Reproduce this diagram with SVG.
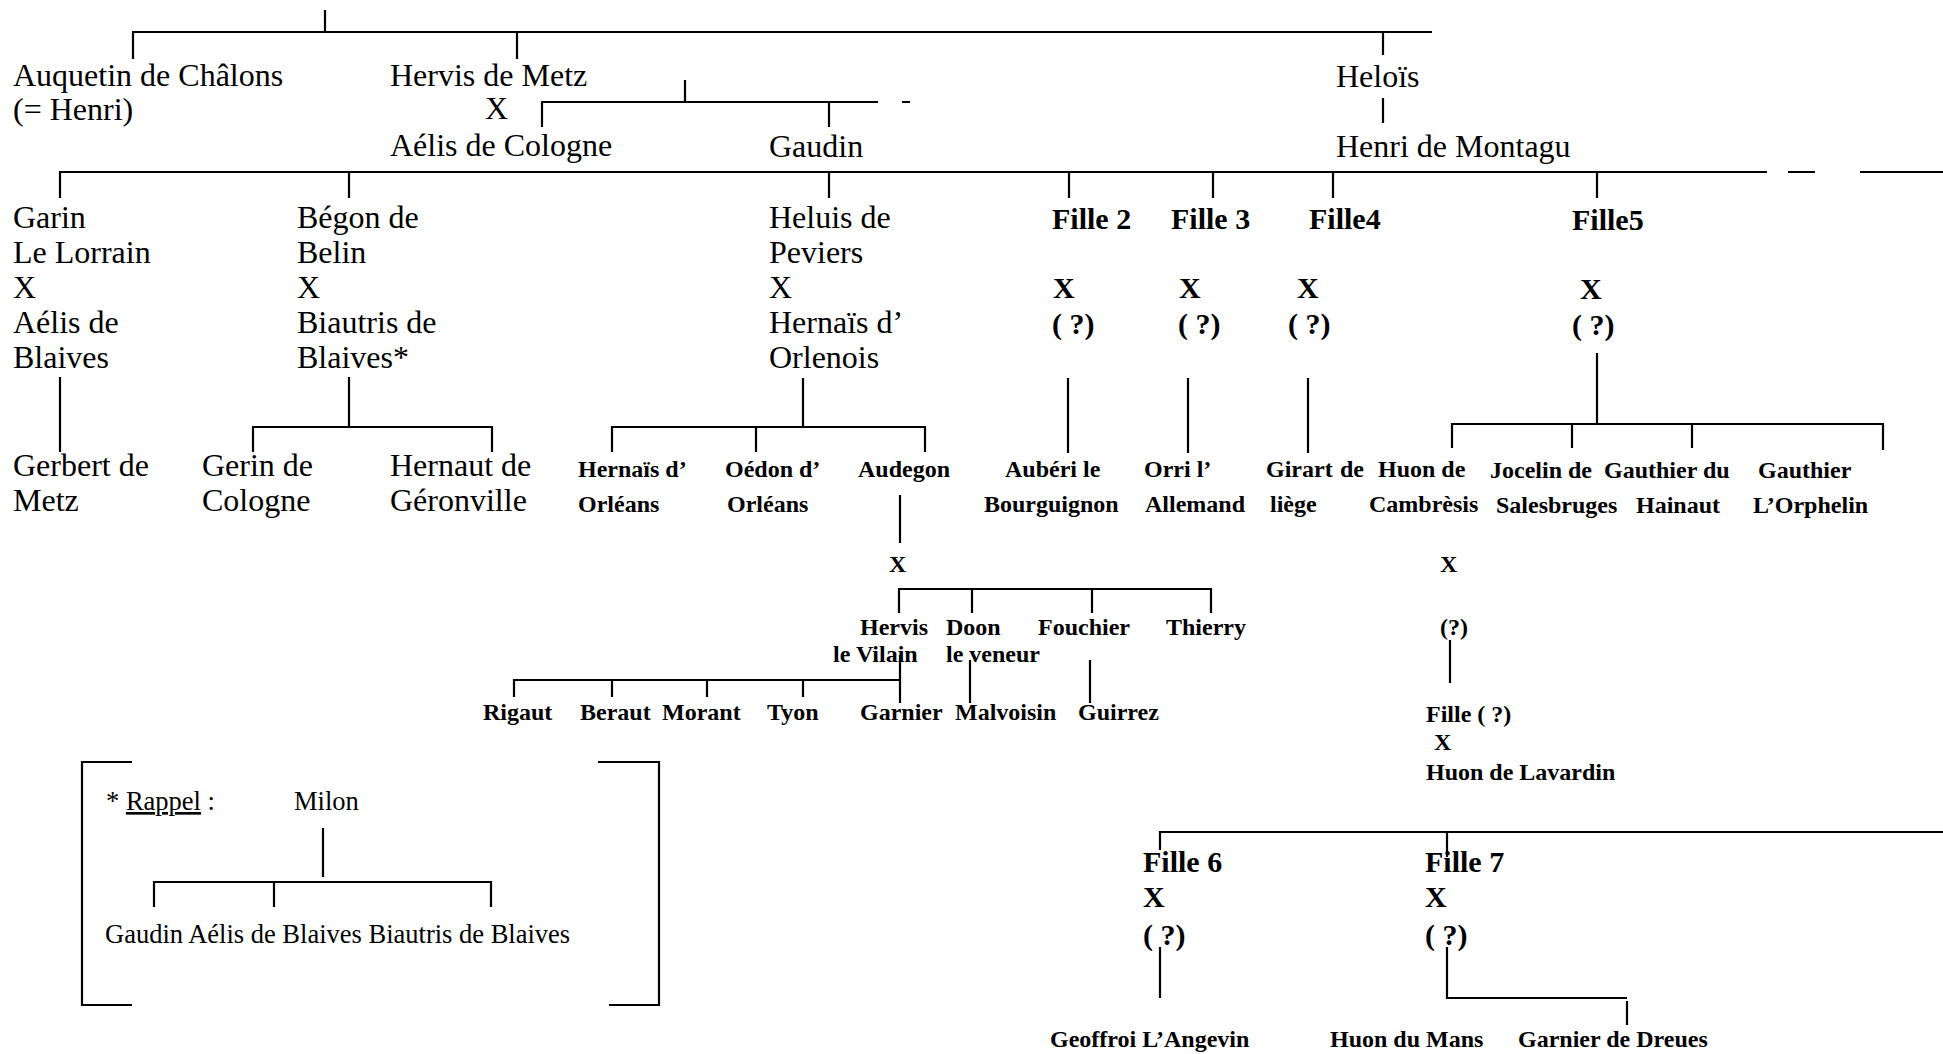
<svg xmlns="http://www.w3.org/2000/svg" width="1943" height="1054" viewBox="0 0 1943 1054">
<style>
text{font-family:"Liberation Serif","Times New Roman",serif;fill:#000}
.n{font-size:32px}
.f{font-size:30px;font-weight:bold}
.s{font-size:24px;font-weight:bold}
.r{font-size:26.5px}
#connectors path{stroke:#000;stroke-width:2.2;fill:none}
</style>
<rect width="1943" height="1054" fill="#fff"/>
<g id="connectors">
<path d="M325 10V32M133 59V32H1432M517 32V59M1383 32V55"/>
<path d="M685 80V102M542 127V102H878M902 102H910M829 102V127"/>
<path d="M1383 98V123"/>
<path d="M60 198V172H1767M1788 172H1815M1860 172H1943M349 172V198M829 172V198M1069 172V198M1213 172V198M1333 172V198M1597 172V198"/>
<path d="M60 377V452"/>
<path d="M349 377V427M253 452V427H492V452"/>
<path d="M803 378V427M612 452V427H925V452M756 427V452"/>
<path d="M1068 378V453M1188 378V453M1308 378V453"/>
<path d="M1597 353V424M1452 448V424H1883V450M1572 424V448M1692 424V448"/>
<path d="M900 495V543"/>
<path d="M899 613V589H1211V613M972 589V613M1092 589V613"/>
<path d="M900 655V703M514 697V680H900M612 680V697M707 680V697M803 680V697"/>
<path d="M970 660V703M1090 660V703"/>
<path d="M1450 640V683"/>
<path d="M1160 850V832H1943M1447 832V857"/>
<path d="M1160 947V998"/>
<path d="M1447 947V998H1627M1627 1001V1025"/>
<path d="M132 762H82V1005H132M598 762H659V1005H609"/>
<path d="M323 828V877M154 907V882H491V907M274 882V907"/>
</g>
<g id="auquetin"><text class="n" x="13" y="86">Auquetin de Châlons</text><text class="n" x="13" y="120">(= Henri)</text></g>
<g id="hervis-metz"><text class="n" x="390" y="86">Hervis de Metz</text><text class="n" x="485" y="119">X</text><text class="n" x="390" y="156">Aélis de Cologne</text></g>
<g id="gaudin"><text class="n" x="769" y="157">Gaudin</text></g>
<g id="helois"><text class="n" x="1336" y="87">Heloïs</text><text class="n" x="1336" y="157">Henri de Montagu</text></g>
<g id="garin"><text class="n" x="13" y="228">Garin</text><text class="n" x="13" y="263">Le Lorrain</text><text class="n" x="13" y="298">X</text><text class="n" x="13" y="333">Aélis de</text><text class="n" x="13" y="368">Blaives</text></g>
<g id="begon"><text class="n" x="297" y="228">Bégon de</text><text class="n" x="297" y="263">Belin</text><text class="n" x="297" y="298">X</text><text class="n" x="297" y="333">Biautris de</text><text class="n" x="297" y="368">Blaives*</text></g>
<g id="heluis"><text class="n" x="769" y="228">Heluis de</text><text class="n" x="769" y="263">Peviers</text><text class="n" x="769" y="298">X</text><text class="n" x="769" y="333">Hernaïs d’</text><text class="n" x="769" y="368">Orlenois</text></g>
<g id="fille2"><text class="f" x="1052" y="229">Fille 2</text><text class="f" x="1053" y="298">X</text><text class="f" x="1052" y="334">( ?)</text></g>
<g id="fille3"><text class="f" x="1171" y="229">Fille 3</text><text class="f" x="1179" y="298">X</text><text class="f" x="1178" y="334">( ?)</text></g>
<g id="fille4"><text class="f" x="1309" y="229">Fille4</text><text class="f" x="1297" y="298">X</text><text class="f" x="1288" y="334">( ?)</text></g>
<g id="fille5"><text class="f" x="1572" y="230">Fille5</text><text class="f" x="1580" y="299">X</text><text class="f" x="1572" y="335">( ?)</text></g>
<g id="gerbert"><text class="n" x="13" y="476">Gerbert de</text><text class="n" x="13" y="511">Metz</text></g>
<g id="gerin"><text class="n" x="202" y="476">Gerin de</text><text class="n" x="202" y="511">Cologne</text></g>
<g id="hernaut"><text class="n" x="390" y="476">Hernaut de</text><text class="n" x="390" y="511">Géronville</text></g>
<g id="hernais-orleans"><text class="s" x="578" y="477">Hernaïs d’</text><text class="s" x="578" y="512">Orléans</text></g>
<g id="oedon"><text class="s" x="725" y="477">Oédon d’</text><text class="s" x="727" y="512">Orléans</text></g>
<g id="audegon"><text class="s" x="858" y="477">Audegon</text><text class="s" x="889" y="572">X</text></g>
<g id="auberi"><text class="s" x="1005" y="477">Aubéri le</text><text class="s" x="984" y="512">Bourguignon</text></g>
<g id="orri"><text class="s" x="1144" y="477">Orri l’</text><text class="s" x="1145" y="512">Allemand</text></g>
<g id="girart"><text class="s" x="1266" y="477">Girart<tspan x="1340">de</tspan></text><text class="s" x="1270" y="512">liège</text></g>
<g id="huon-cambresis"><text class="s" x="1378" y="477">Huon de</text><text class="s" x="1369" y="512">Cambrèsis</text><text class="s" x="1440" y="572">X</text><text class="s" x="1440" y="635">(?)</text></g>
<g id="jocelin"><text class="s" x="1490" y="478">Jocelin de</text><text class="s" x="1496" y="513">Salesbruges</text></g>
<g id="gauthier-hainaut"><text class="s" x="1604" y="478">Gauthier du</text><text class="s" x="1636" y="513">Hainaut</text></g>
<g id="gauthier-orphelin"><text class="s" x="1758" y="478">Gauthier</text><text class="s" x="1753" y="513">L’Orphelin</text></g>
<g id="hervis-vilain"><text class="s" x="860" y="635">Hervis</text><text class="s" x="833" y="662">le Vilain</text></g>
<g id="doon"><text class="s" x="946" y="635">Doon</text><text class="s" x="946" y="662">le veneur</text></g>
<g id="fouchier"><text class="s" x="1038" y="635">Fouchier</text></g>
<g id="thierry"><text class="s" x="1166" y="635">Thierry</text></g>
<g id="rigaut"><text class="s" x="483" y="720">Rigaut</text></g>
<g id="beraut"><text class="s" x="580" y="720">Beraut</text></g>
<g id="morant"><text class="s" x="662" y="720">Morant</text></g>
<g id="tyon"><text class="s" x="767" y="720">Tyon</text></g>
<g id="garnier"><text class="s" x="860" y="720">Garnier</text></g>
<g id="malvoisin"><text class="s" x="955" y="720">Malvoisin</text></g>
<g id="guirrez"><text class="s" x="1078" y="720">Guirrez</text></g>
<g id="fille-lavardin"><text class="s" x="1426" y="722">Fille ( ?)</text><text class="s" x="1434" y="750">X</text><text class="s" x="1426" y="780">Huon de Lavardin</text></g>
<g id="fille6"><text class="f" x="1143" y="872">Fille 6</text><text class="f" x="1143" y="907">X</text><text class="f" x="1143" y="945">( ?)</text></g>
<g id="fille7"><text class="f" x="1425" y="872">Fille 7</text><text class="f" x="1425" y="907">X</text><text class="f" x="1425" y="945">( ?)</text></g>
<g id="geoffroi"><text class="s" x="1050" y="1047">Geoffroi L’Angevin</text></g>
<g id="huon-mans"><text class="s" x="1330" y="1047">Huon du Mans</text></g>
<g id="garnier-dreues"><text class="s" x="1518" y="1047">Garnier de Dreues</text></g>
<g id="rappel"><text class="r" x="106" y="810">* <tspan style="text-decoration:underline">Rappel</tspan> :</text><text class="r" x="294" y="810">Milon</text><text class="r" x="105" y="943">Gaudin Aélis de Blaives Biautris de Blaives</text></g>
</svg>
